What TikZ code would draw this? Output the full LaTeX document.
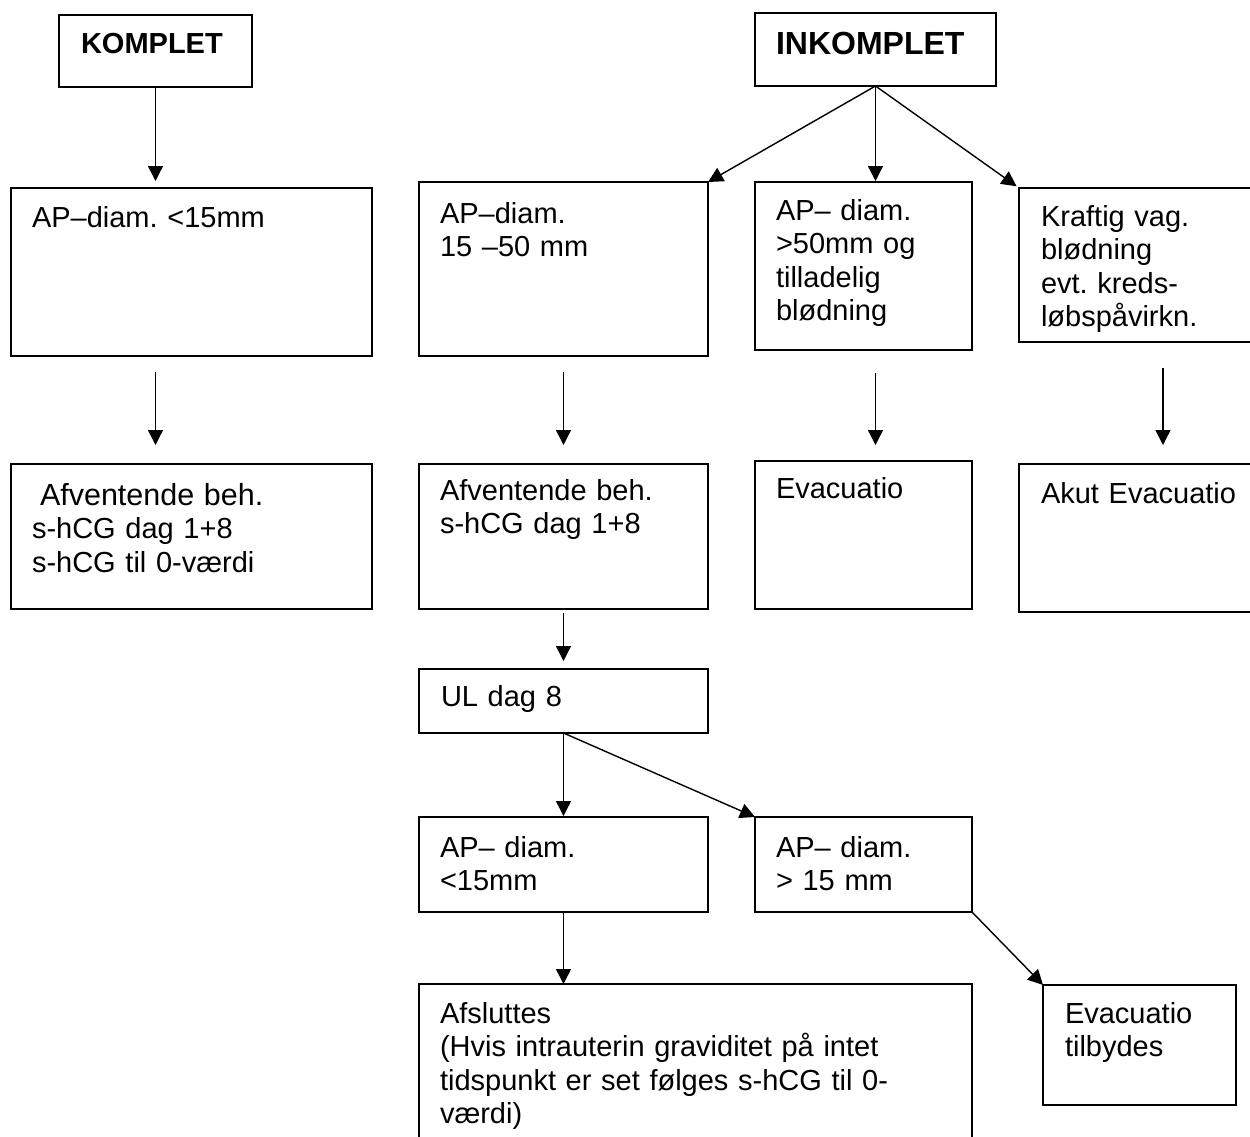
\documentclass[tikz,border=0pt]{standalone}
\usepackage{fontspec}
\setmainfont{Liberation Sans}
\usetikzlibrary{arrows.meta}
\frenchspacing
\begin{document}
\frenchspacing
\begin{tikzpicture}[x=1pt,y=-1pt,
  box/.style={draw, line width=1.4pt, anchor=north west, inner sep=0pt, outer sep=0pt},
  txt/.style={anchor=base west, inner sep=0pt, outer sep=0pt, align=left, text width=540pt,
    font=\fontsize{29}{33.5}\selectfont},
  ttl/.style={anchor=base west, inner sep=0pt, outer sep=0pt, font=\bfseries\fontsize{#1}{34}\selectfont},
  arr/.style={line width=1.4pt, -{Triangle[length=15pt,width=15pt]}}]
\fill[white] (0,0) rectangle (1250,1137);
\useasboundingbox (0,0) rectangle (1250,1137);
\clip (0,0) rectangle (1250,1137);

% boxes
\node[box, minimum width=193pt, minimum height=72pt]  (k)   at (59,15)  {};
\node[box, minimum width=241pt, minimum height=73pt]  (ink) at (755,13) {};
\node[box, minimum width=361pt, minimum height=168pt] (a1)  at (11,188) {};
\node[box, minimum width=289pt, minimum height=174pt] (a2)  at (419,182) {};
\node[box, minimum width=217pt, minimum height=168pt] (a3)  at (755,182) {};
\node[box, minimum width=260pt, minimum height=154pt] (a4)  at (1019,188) {};
\node[box, minimum width=361pt, minimum height=145pt] (b1)  at (11,464) {};
\node[box, minimum width=289pt, minimum height=145pt] (b2)  at (419,464) {};
\node[box, minimum width=217pt, minimum height=148pt] (b3)  at (755,461) {};
\node[box, minimum width=260pt, minimum height=148pt] (b4)  at (1019,464) {};
\node[box, minimum width=289pt, minimum height=64pt]  (c)   at (419,669) {};
\node[box, minimum width=289pt, minimum height=95pt]  (d1)  at (419,817) {};
\node[box, minimum width=217pt, minimum height=95pt]  (d2)  at (755,817) {};
\node[box, minimum width=553pt, minimum height=180pt] (e1)  at (419,984) {};
\node[box, minimum width=193pt, minimum height=120pt] (e2)  at (1043,985) {};

% texts
\node[ttl=29] (kt)   at (81,54)  {KOMPLET};
\node[ttl=32] (inkt) at (776,55) {INKOMPLET};
\node[txt] (a1t) at (32,227)  {AP–diam. <15mm};
\node[txt] (a2t) at (440,223) {AP–diam.\\15 –50 mm};
\node[txt] (a3t) at (776,220) {AP– diam.\\>50mm og\\tilladelig\\blødning};
\node[txt] (a4t) at (1041,226) {Kraftig vag.\\blødning\\evt. kreds-\\løbspåvirkn.};
\node[txt] (b1t) at (32,505) {\hspace*{8pt}{\fontsize{30.5}{33.5}\selectfont Afventende beh.}\\s-hCG dag 1+8\\s-hCG til 0-værdi};
\node[txt] (b2t) at (440,500) {Afventende beh.\\s-hCG dag 1+8};
\node[txt] (b3t) at (776,498) {Evacuatio};
\node[txt] (b4t) at (1041,503) {Akut Evacuatio};
\node[txt] (ct)  at (441,706) {UL dag 8};
\node[txt] (d1t) at (440,857) {AP– diam.\\<15mm};
\node[txt] (d2t) at (776,857) {AP– diam.\\> 15 mm};
\node[txt] (e1t) at (440,1023) {Afsluttes\\(Hvis intrauterin graviditet på intet\\tidspunkt er set følges s-hCG til 0-\\værdi)};
\node[txt] (e2t) at (1065,1023) {Evacuatio\\tilbydes};

% connectors
\coordinate (a4x) at (1163,0);
\draw[arr, shorten >=7pt] (k.south) -- (k.south |- a1.north);
\draw[arr, shorten <=16pt, shorten >=19pt] (k.south |- a1.south) -- (k.south |- b1.north);
\draw[arr] (ink.south) -- (a2.north east);
\draw[arr, shorten >=1pt] (ink.south) -- (ink.south |- a3.north);
\draw[arr, shorten >=3pt] (ink.south) -- (a4.north west);
\draw[arr, shorten <=16pt, shorten >=19pt] (a2.south) -- (b2.north);
\draw[arr, shorten <=23pt, shorten >=16pt] (ink.south |- a3.south) -- (ink.south |- b3.north);
\draw[arr, shorten <=26pt, shorten >=19pt] (a4x |- a4.south) -- (a4x |- b4.north);
\draw[arr, shorten <=4pt, shorten >=8pt] (b2.south) -- (c.north);
\draw[arr, shorten >=1pt] (c.south) -- (d1.north);
\draw[arr] (c.south) -- (d2.north west);
\draw[arr] (d1.south) -- (d1.south |- e1.north);
\draw[arr] (d2.south east) -- (e2.north west);
\end{tikzpicture}
\end{document}
